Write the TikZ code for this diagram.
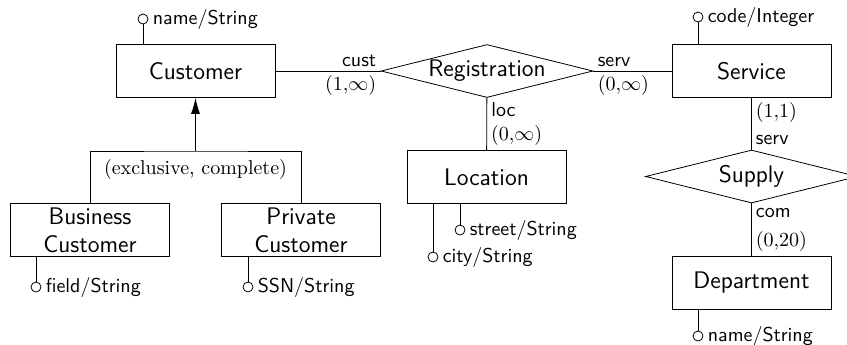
\documentclass[tikz,border=0pt]{standalone}
\usepackage{amssymb,amsmath}
\usepackage{tikz}
\usetikzlibrary{shapes.geometric,arrows.meta}

\begin{document}
\begin{tikzpicture}[x=0.5pt,y=-0.5pt,
  entity/.style={draw,rectangle,minimum width=79.5pt,minimum height=26.5pt,inner sep=1pt,align=center,font=\sffamily\large},
  relship/.style={draw,diamond,aspect=4,minimum width=106pt,minimum height=26.5pt,inner sep=0pt,font=\sffamily\large},
  attr/.style={draw,circle,inner sep=0pt,minimum size=5pt},
  role/.style={inner sep=2pt,font=\sffamily},
  card/.style={inner sep=2pt}]
\useasboundingbox (0,0) rectangle (847,344);
\clip (0,0) rectangle (847,344);
%Сущности
\node[entity] (cust) at (195.5,71) {Customer};
\node[entity] (serv) at (751.5,71) {Service};
\node[entity] (loc) at (486.5,177) {Location};
\node[entity] (dept) at (751.5,282.5) {Department};
\node[entity] (bus) at (90,230) {Business\\Customer};
\node[entity] (priv) at (301,230) {Private\\Customer};
%Связи
\node[relship] (reg) at (487,71) {Registration};
\node[relship] (supply) at (751.5,176.5) {Supply};
%Линии связей с ролями и кардинальностями
\draw (cust) -- node[role,pos=1,above left] (rcust) {cust} node[card,pos=1,below left] (ccust) {$(1{,}\infty)$} (reg);
\draw (reg) -- node[role,pos=0,above right] (rserv) {serv} node[card,pos=0,below right] (cserv) {$(0{,}\infty)$} (serv);
\draw (reg) -- node[role,pos=0,below right] (rloc) {loc} node[card,pos=1,above right] (cloc) {$(0{,}\infty)$} (loc);
\draw (serv) -- node[card,pos=0,below right] (csup) {$(1{,}1)$} node[role,pos=1,above right] (rsup) {serv} (supply);
\draw (supply) -- node[role,pos=0,below right] (rcom) {com} node[card,pos=1,above right] (ccom) {$(0{,}20)$} (dept);
%Обобщение
\coordinate (gen) at (195.5,151);
\draw (bus.north) |- (gen) -| (priv.north);
\draw[-{Latex[length=8pt,width=4.5pt]}] (gen) -- (cust);
\node[card,below=2pt] (constr) at (gen) {(exclusive, complete)};
%Атрибуты
\node[attr,label={[role]right:name/String}] (cname) at (143,19) {};
\draw (cname) -- (cname |- cust.north);
\node[attr,label={[role]right:code/Integer}] (scode) at (698,17) {};
\draw (scode) -- (scode |- serv.north);
\node[attr,label={[role]right:name/String}] (dname) at (698,336) {};
\draw (dname) -- (dname |- dept.south);
\node[attr,label={[role]right:street/String}] (lstreet) at (460,230) {};
\draw (lstreet) -- (lstreet |- loc.south);
\node[attr,label={[role]right:city/String}] (lcity) at (433,257) {};
\draw (lcity) -- (lcity |- loc.south);
\node[attr,label={[role]right:field/String}] (bfield) at (36,287) {};
\draw (bfield) -- (bfield |- bus.south);
\node[attr,label={[role]right:SSN/String}] (pssn) at (248,287) {};
\draw (pssn) -- (pssn |- priv.south);
\end{tikzpicture}
\end{document}
